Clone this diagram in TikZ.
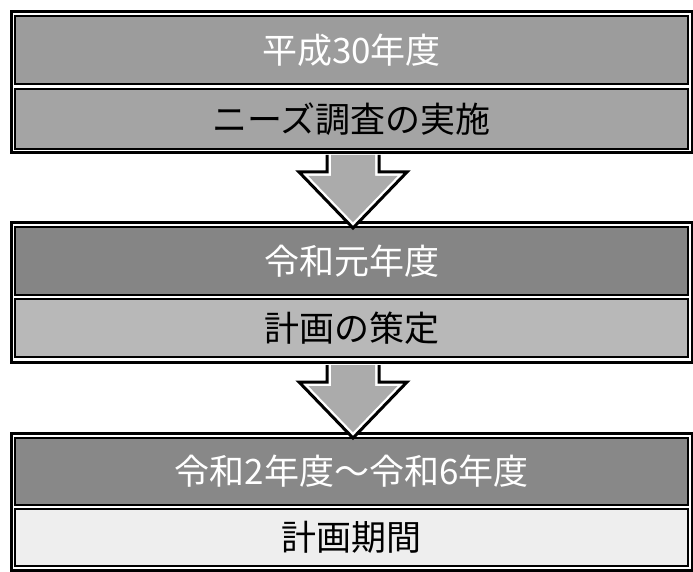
\documentclass[tikz,border=0pt]{standalone}
\usepackage{fontspec}
\usepackage{pdfrender}
\newfontfamily\jp{Noto Sans CJK JP}
\definecolor{gA}{HTML}{9C9C9C}
\definecolor{gB}{HTML}{A4A4A4}
\definecolor{gC}{HTML}{858585}
\definecolor{gD}{HTML}{B8B8B8}
\definecolor{gE}{HTML}{888888}
\definecolor{gF}{HTML}{EEEEEE}
\definecolor{gArrow}{HTML}{ABABAB}
\tikzset{
  frame/.style={draw=black, line width=3pt},
  inbox/.style={draw=black, line width=1.3pt, anchor=north west, inner sep=0pt, outer sep=0pt, minimum width=673pt},
  wtext/.style={text=white, font=\jp\fontsize{35}{35}\selectfont},
  btext/.style={text=black, font=\jp\fontsize{35}{35}\selectfont},
}
\newcommand\wlabel[1]{\textpdfrender{TextRenderingMode=FillStroke,LineWidth=1.1,StrokeColor=black,FillColor=white}{#1}}
\newcommand\blabel[1]{#1}
\begin{document}
\begin{tikzpicture}[x=1pt,y=-1pt]
\useasboundingbox (0,0) rectangle (693,572);
% group 1
\draw[frame] (11,12) rectangle (692,153);
\node[inbox, fill=gA, minimum height=68pt] (b1) at (15,16) {};
\node[inbox, fill=gB, minimum height=60pt] (b2) at (15,89) {};
\node[wtext] (t1) at (b1.center) {\wlabel{平成30年度}};
\node[btext] (t2) at (b2.center) {\blabel{ニーズ調査の実施}};
% group 2
\draw[frame] (11,222) rectangle (692,362);
\node[inbox, fill=gC, minimum height=68pt] (b3) at (15,227) {};
\node[inbox, fill=gD, minimum height=58pt] (b4) at (15,299) {};
\node[wtext] (t3) at (b3.center) {\wlabel{令和元年度}};
\node[btext] (t4) at (b4.center) {\blabel{計画の策定}};
% group 3
\draw[frame] (11,433) rectangle (692,570.5);
\node[inbox, fill=gE, minimum height=67pt] (b5) at (15,438) {};
\node[inbox, fill=gF, minimum height=57pt] (b6) at (15,509) {};
\node[wtext] (t5) at (b5.center) {\wlabel{令和2年度～令和6年度}};
\node[btext] (t6) at (b6.center) {\blabel{計画期間}};
% block arrows
\foreach \dy in {0,210}{
  \begin{scope}[yshift=-\dy pt]
    \fill[white] (327,155) -- (327,172) -- (299,172) -- (353,228) -- (407,172) -- (379,172) -- (379,155) -- cycle;
    \draw[black, line width=3pt, line join=miter] (327,155) -- (327,172) -- (299,172) -- (353,228) -- (407,172) -- (379,172) -- (379,155);
    \fill[gArrow] (331,155) -- (331,176) -- (308.4,176) -- (353,222.2) -- (397.6,176) -- (375,176) -- (375,155) -- cycle;
  \end{scope}
}
\end{tikzpicture}
\end{document}
